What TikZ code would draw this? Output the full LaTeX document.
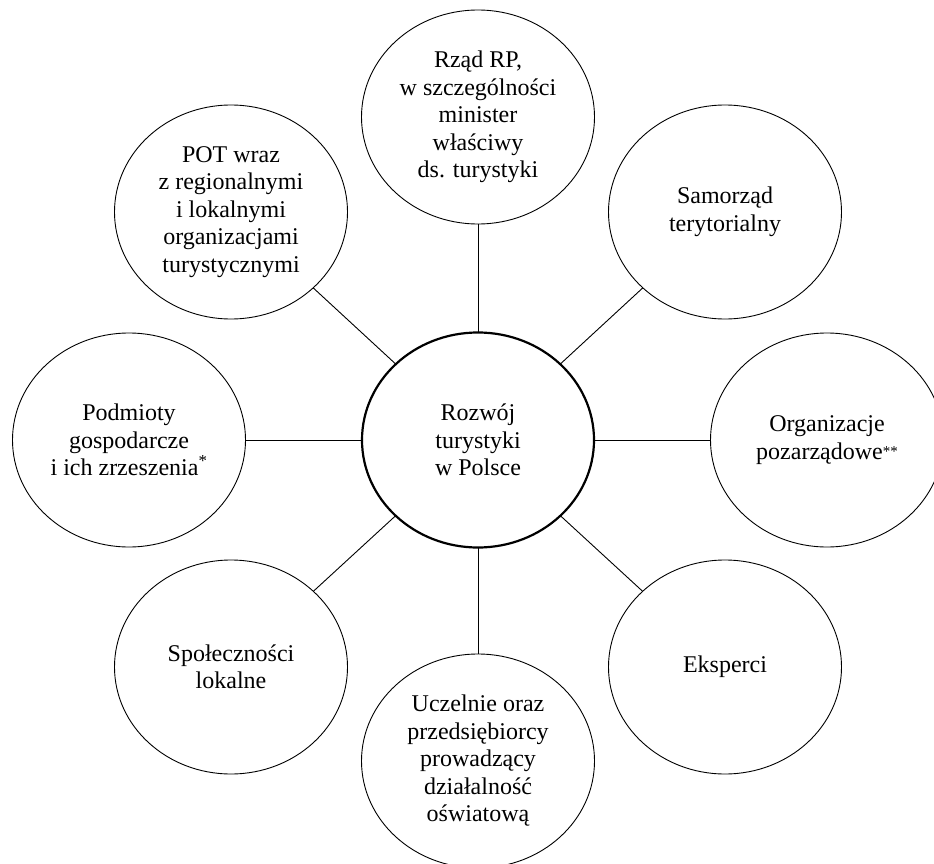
\documentclass[tikz,border=0pt]{standalone}
\usepackage{fontspec}
\setmainfont{Liberation Serif}
\usetikzlibrary{shapes.geometric}
\tikzset{krag/.style={draw, ellipse, line width=0.9pt, inner sep=0pt, outer sep=0pt,
    minimum width=233, minimum height=214, align=center,
    font=\fontsize{24}{27.5}\selectfont}}
\begin{document}
\begin{tikzpicture}[x=1pt, y=-1pt]
			%%%%% START %%%%%
			\useasboundingbox (0, 0) rectangle (934, 864);
			\clip (0, 0) rectangle (934, 864);
			
			\node[krag, line width=2.2pt, minimum width=232, minimum height=215] (rozwoj) at (478, 440) {Rozwój\\turystyki\\w Polsce};
			
			\node[krag] (rzad) at (478, 117) {Rząd RP,\\w szczególności\\minister\\właściwy\\ds. turystyki};
			\node[krag] (samorzad) at (725, 212) {Samorząd\\terytorialny};
			\node[krag] (ngo) at (827, 440) {Organizacje\\pozarządowe\raisebox{0.25ex}{\fontsize{15}{15}\selectfont **}};
			\node[krag] (eksperci) at (725, 667) {Eksperci};
			\node[krag] (uczelnie) at (478, 761) {Uczelnie oraz\\przedsiębiorcy\\prowadzący\\działalność\\oświatową};
			\node[krag] (spolecznosci) at (231, 667) {Społeczności\\lokalne};
			\node[krag] (podmioty) at (129, 440) {Podmioty\\gospodarcze\\i ich zrzeszenia\textsuperscript{*}};
			\node[krag] (pot) at (231, 212) {POT wraz\\z regionalnymi\\i lokalnymi\\organizacjami\\turystycznymi};
			
			\foreach \n in {rzad, samorzad, ngo, eksperci, uczelnie, spolecznosci, podmioty, pot}
				\draw[line width=0.9pt] (rozwoj) -- (\n);
			%%%%% END %%%%%
		\end{tikzpicture}
\end{document}
